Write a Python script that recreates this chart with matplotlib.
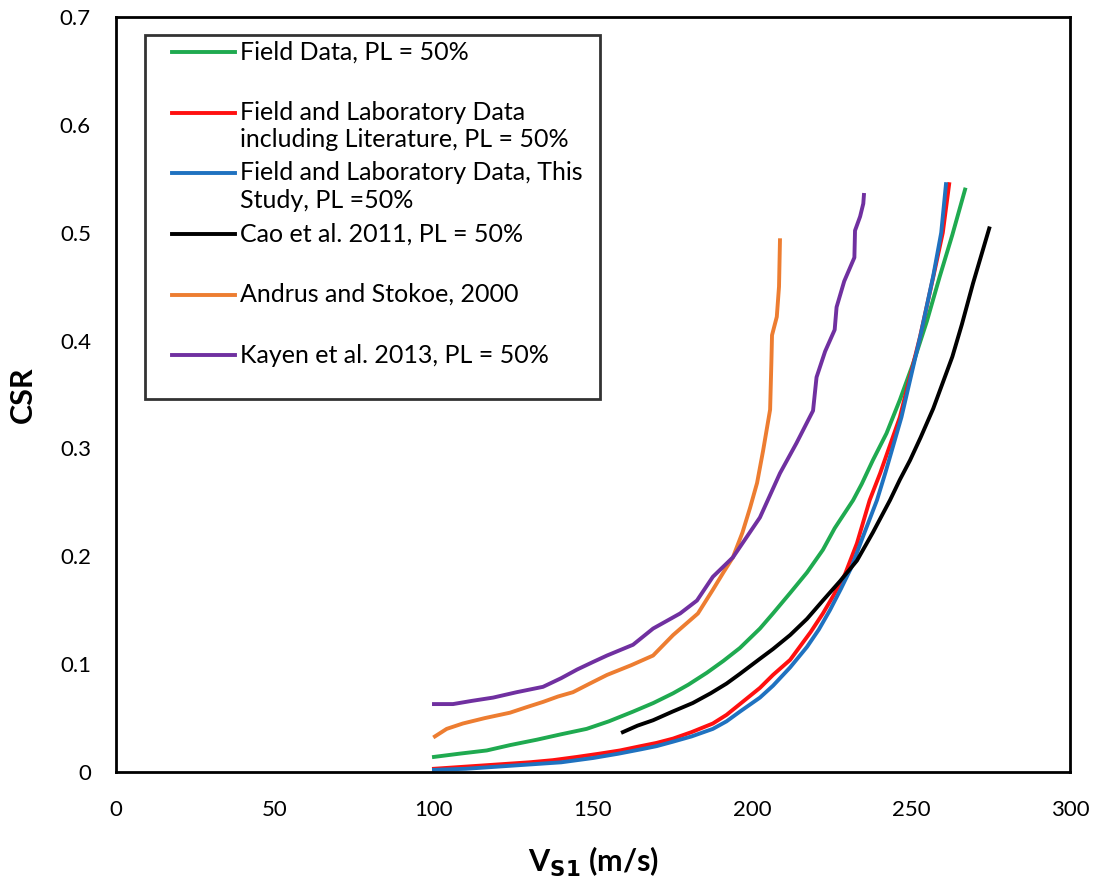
import matplotlib.pyplot as plt
from matplotlib.legend_handler import HandlerLine2D

plt.rcParams['font.family'] = ['Lato', 'DejaVu Sans']

# Field Data, PL = 50%
green_x = [100, 108, 116.6, 124, 132.4, 140, 148, 155, 162.6, 169, 175.2, 180, 185.8, 191, 196.2,
           202.5, 206.6, 212, 217.3, 222.3, 226, 231.8, 234.5, 238, 242.3, 246.5, 250.7, 255, 259,
           263, 267]
green_y = [0.014, 0.017, 0.020, 0.025, 0.030, 0.035, 0.040, 0.047, 0.056, 0.064, 0.073, 0.081,
           0.092, 0.103, 0.115, 0.133, 0.147, 0.166, 0.185, 0.206, 0.226, 0.252, 0.267, 0.289,
           0.314, 0.345, 0.379, 0.418, 0.459, 0.498, 0.540]

# Field and Laboratory Data including Literature, PL = 50%
red_x = [100, 110, 120, 130, 137.4, 145, 152, 158.5, 165, 170, 175.2, 181, 187.7, 192, 196.2,
         202.5, 206.6, 212, 215, 218.5, 222.3, 225.5, 229.2, 233, 237, 240.3, 246.5, 252.8, 257,
         260, 262]
red_y = [0.003, 0.005, 0.007, 0.009, 0.011, 0.014, 0.017, 0.020, 0.024, 0.027, 0.031, 0.037,
         0.045, 0.053, 0.063, 0.078, 0.090, 0.104, 0.116, 0.130, 0.147, 0.163, 0.183, 0.212,
         0.252, 0.277, 0.329, 0.403, 0.459, 0.500, 0.545]

# Field and Laboratory Data, This Study, PL = 50%
blue_x = [100, 110, 120, 130, 140, 150, 158, 165, 170, 175, 181, 187.7, 192, 196.2, 202.5, 206.6,
          212, 217.3, 221, 224.5, 228, 231.3, 235, 239.3, 242, 247, 253, 257, 259.5, 261]
blue_y = [0.002, 0.003, 0.005, 0.007, 0.009, 0.013, 0.017, 0.021, 0.024, 0.028, 0.033, 0.040,
          0.047, 0.056, 0.069, 0.080, 0.097, 0.116, 0.132, 0.150, 0.170, 0.190, 0.219, 0.252,
          0.278, 0.329, 0.405, 0.460, 0.500, 0.545]

# Cao et al. 2011, PL = 50%
black_x = [159.4, 164, 168.9, 175, 181.4, 187, 192, 196.2, 202.5, 206.6, 212, 217.3, 222.3,
           227.7, 233, 238, 243.4, 246.5, 249.7, 253, 257, 263, 266, 269.5, 272, 274.6]
black_y = [0.037, 0.043, 0.048, 0.056, 0.064, 0.073, 0.082, 0.091, 0.105, 0.114, 0.127, 0.142,
           0.159, 0.177, 0.196, 0.222, 0.252, 0.271, 0.289, 0.310, 0.337, 0.385, 0.415, 0.453,
           0.478, 0.504]

# Andrus and Stokoe, 2000
orange_x = [100.3, 104, 109.1, 116, 123.9, 129, 134.3, 139, 143.7, 149, 154.4, 162, 168.9, 175.2,
            183, 187.7, 191, 194, 197, 199.4, 201.6, 203.5, 205.7, 206.1, 206.3, 207.8, 208.5,
            208.8]
orange_y = [0.033, 0.040, 0.045, 0.050, 0.055, 0.060, 0.065, 0.070, 0.074, 0.082, 0.090, 0.099,
            0.108, 0.127, 0.147, 0.169, 0.185, 0.199, 0.222, 0.245, 0.268, 0.298, 0.336, 0.380,
            0.405, 0.422, 0.450, 0.493]

# Kayen et al. 2013, PL = 50%
purple_x = [100, 106, 112, 118.6, 126, 134.3, 140, 145, 150, 154.4, 162.6, 168.9, 177.4, 182.7,
            187.7, 194, 202.5, 208.8, 214, 219.2, 220.3, 223, 226, 226.6, 229, 232.2, 232.4, 234,
            235, 235.2]
purple_y = [0.063, 0.063, 0.066, 0.069, 0.074, 0.079, 0.087, 0.095, 0.102, 0.108, 0.118, 0.133,
            0.147, 0.159, 0.181, 0.199, 0.236, 0.277, 0.305, 0.335, 0.366, 0.390, 0.410, 0.431,
            0.455, 0.477, 0.502, 0.515, 0.527, 0.535]


class FirstLineHandler(HandlerLine2D):
    # puts the legend line next to the first text line and leaves a gap on the left
    def __init__(self, dx, dy, **kw):
        super().__init__(**kw)
        self.dx = dx
        self.dy = dy

    def create_artists(self, legend, orig_handle, xdescent, ydescent, width, height, fontsize, trans):
        return super().create_artists(legend, orig_handle, xdescent - self.dx, ydescent - self.dy,
                                      width - self.dx, height, fontsize, trans)


fig = plt.figure(figsize=(10.98, 8.8), dpi=100)
ax = fig.add_axes([0.1056, 0.1227, 0.8689, 0.858])

lw = 2.8
l1, = ax.plot(green_x, green_y, color='#1faa50', lw=lw)
l2, = ax.plot(red_x, red_y, color='#ff1010', lw=lw)
l3, = ax.plot(blue_x, blue_y, color='#1f72c0', lw=lw)
l4, = ax.plot(black_x, black_y, color='black', lw=lw)
l5, = ax.plot(orange_x, orange_y, color='#ed7d31', lw=lw)
l6, = ax.plot(purple_x, purple_y, color='#7030a0', lw=lw)

labels = ['Field Data, PL = 50%\n ',
          'Field and Laboratory Data\nincluding Literature, PL = 50%',
          'Field and Laboratory Data, This  \nStudy, PL =50%',
          'Cao et al. 2011, PL = 50%\n ',
          'Andrus and Stokoe, 2000\n ',
          'Kayen et al. 2013, PL = 50%\n ']

ax.set_xlim(0, 300)
ax.set_ylim(0, 0.7)
ax.set_xticks([0, 50, 100, 150, 200, 250, 300])
ax.set_yticks([0, 0.1, 0.2, 0.3, 0.4, 0.5, 0.6, 0.7])
ax.set_yticklabels(['0', '0.1', '0.2', '0.3', '0.4', '0.5', '0.6', '0.7'])
ax.tick_params(length=0, labelsize=16)
ax.tick_params(axis='x', pad=20)
ax.tick_params(axis='y', pad=18)
for s in ax.spines.values():
    s.set_linewidth(2)

ax.set_xlabel('V$_{\\mathbf{S1}}$ (m/s)', fontsize=22, fontweight='bold', labelpad=18)
ax.set_ylabel('CSR', fontsize=22, fontweight='bold')
ax.yaxis.set_label_coords(-0.083, 0.5)

h = FirstLineHandler(16.5, 20)
leg = ax.legend([l1, l2, l3, l4, l5, l6], labels, loc='upper left',
                bbox_to_anchor=(0.03, 0.976), fontsize=18, frameon=True, fancybox=False,
                edgecolor='black', handlelength=3.4, handletextpad=0.2, labelspacing=0.42,
                borderpad=0.2, borderaxespad=0, handler_map={l: h for l in [l1, l2, l3, l4, l5, l6]})
leg.get_frame().set_linewidth(2)
for t in leg.get_texts():
    t.set_linespacing(1.22)

fig.savefig('out.png', dpi=100)
